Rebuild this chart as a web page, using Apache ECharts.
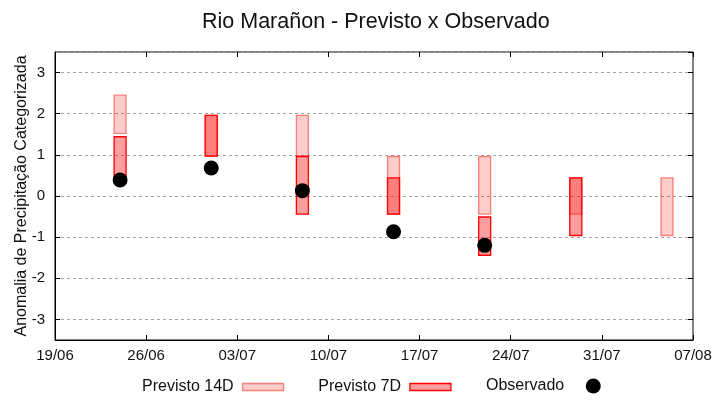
<!DOCTYPE html>
<html>
<head>
<meta charset="utf-8">
<script src="https://cdn.jsdelivr.net/npm/echarts@6/dist/echarts.min.js"></script>
<style>html,body{margin:0;padding:0;background:#fff;}#c{width:720px;height:400px;}</style>
</head>
<body>
<div id="c"></div>
<script>
// ---- data ----
const startDate = '19/06';
const tickLabels = ['19/06', '26/06', '03/07', '10/07', '17/07', '24/07', '31/07', '07/08'];
const dates = ['24/06', '01/07', '08/07', '15/07', '22/07', '29/07', '05/08'];
const prev14Low  = [1.52, 0.97, 0.97, -0.44, -0.44, -0.44, -0.96];
const prev14High = [2.45, 1.96, 1.96, 0.96, 0.96, 0.44, 0.44];
const prev7Low   = [0.44, 0.97, -0.44, -0.44, -1.44, -0.96, null];
const prev7High  = [1.44, 1.96, 0.96, 0.44, -0.51, 0.44, null];
const observed   = [0.39, 0.68, 0.13, -0.87, -1.20, null, null];

function dayOffset(s) {
  const [d, m] = s.split('/').map(Number);
  const [d0, m0] = startDate.split('/').map(Number);
  return Math.round((Date.UTC(2025, m - 1, d) - Date.UTC(2025, m0 - 1, d0)) / 86400000);
}
const xs = dates.map(dayOffset);

function rangeData(lo, hi) {
  const out = [];
  xs.forEach((x, i) => { if (lo[i] != null && hi[i] != null) out.push([x, lo[i], hi[i]]); });
  return out;
}
const obsData = [];
xs.forEach((x, i) => { if (observed[i] != null) obsData.push([x, observed[i]]); });

function makeRender(fill, stroke) {
  return function (params, api) {
    const x = api.value(0), lo = api.value(1), hi = api.value(2);
    const p1 = api.coord([x, hi]);
    const p2 = api.coord([x, lo]);
    const w = 12;
    return {
      type: 'rect',
      shape: { x: p1[0] - w / 2, y: p1[1], width: w, height: p2[1] - p1[1] },
      style: { fill: fill, stroke: stroke, lineWidth: 1.3 }
    };
  };
}

const fill14 = 'rgba(255,0,0,0.2)', stroke14 = 'rgba(240,60,50,0.6)';
const fill7 = 'rgba(255,0,0,0.38)', stroke7 = '#ff0000';

const font = 'Liberation Sans, Arial, sans-serif';
const chart = echarts.init(document.getElementById('c'));
const yCommon = {
  type: 'value', min: -3.5, max: 3.5, splitNumber: 7
};
chart.setOption({
  animation: false,
  backgroundColor: '#fff',
  title: {
    text: 'Rio Marañon - Previsto x Observado',
    left: 197, top: 6,
    textStyle: { fontFamily: font, fontSize: 21.5, fontWeight: 'normal', color: '#111' }
  },
  grid: { left: 55, right: 27, top: 52, bottom: 60, show: true, borderColor: '#000', borderWidth: 1, backgroundColor: 'transparent', containLabel: false, outerBoundsMode: 'none' },
  legend: [{
    left: 137, top: 374, orient: 'horizontal', align: 'right',
    itemWidth: 41, itemHeight: 7, itemGap: 34,
    textStyle: { fontFamily: font, fontSize: 16, color: '#111', padding: [0, 4, 0, 0] },
    data: [
      { name: 'Previsto 14D', icon: 'rect', itemStyle: { color: fill14, borderColor: stroke14, borderWidth: 1.3 } },
      { name: 'Previsto 7D', icon: 'rect', itemStyle: { color: fill7, borderColor: stroke7, borderWidth: 1.3 } }
    ]
  }, {
    left: 481, top: 373, align: 'right',
    itemWidth: 48, itemHeight: 15,
    textStyle: { fontFamily: font, fontSize: 16, color: '#111', padding: [0, 0, 0, 0] },
    data: [{ name: 'Observado', icon: 'circle', itemStyle: { color: '#000', opacity: 1 } }]
  }],
  xAxis: [{
    type: 'value', min: 0, max: 49, interval: 7,
    axisLine: { show: true, onZero: false, lineStyle: { color: '#000' } },
    axisTick: { show: true, inside: true, length: 5, lineStyle: { color: '#000' } },
    splitLine: { show: false },
    axisLabel: {
      fontFamily: font, fontSize: 15, color: '#111', margin: 8,
      formatter: v => tickLabels[Math.round(v / 7)] || ''
    }
  }, {
    type: 'value', min: 0, max: 49, interval: 7, position: 'top',
    axisLine: { show: false, onZero: false },
    axisTick: { show: true, inside: true, length: 5, lineStyle: { color: '#000' } },
    splitLine: { show: false }, axisLabel: { show: false }
  }],
  yAxis: [Object.assign({}, yCommon, {
    name: 'Anomalia de Precipitação Categorizada',
    nameLocation: 'middle', nameGap: 25, nameMoveOverlap: false,
    nameTextStyle: { fontFamily: font, fontSize: 16, color: '#111' },
    axisLine: { show: true, onZero: false, lineStyle: { color: '#000' } },
    axisTick: { show: true, inside: true, length: 5, lineStyle: { color: '#000' } },
    splitLine: { show: true, lineStyle: { color: '#a0a0a0', type: [3, 3], width: 1 } },
    axisLabel: {
      fontFamily: font, fontSize: 15, color: '#111', margin: 10,
      showMinLabel: false, showMaxLabel: false,
      formatter: v => Number.isInteger(v) ? String(v) : ''
    }
  }), Object.assign({}, yCommon, {
    position: 'right',
    axisLine: { show: false, onZero: false },
    axisTick: { show: true, inside: true, length: 5, lineStyle: { color: '#000' } },
    splitLine: { show: false }, axisLabel: { show: false }
  })],
  series: [{
    name: 'Previsto 14D', type: 'custom',
    renderItem: makeRender(fill14, stroke14),
    encode: { x: 0, y: [1, 2] },
    itemStyle: { color: fill14 },
    data: rangeData(prev14Low, prev14High), z: 2
  }, {
    name: 'Previsto 7D', type: 'custom',
    renderItem: makeRender(fill7, stroke7),
    encode: { x: 0, y: [1, 2] },
    itemStyle: { color: fill7 },
    data: rangeData(prev7Low, prev7High), z: 3
  }, {
    name: 'Observado', type: 'scatter',
    symbol: 'circle', symbolSize: 15,
    itemStyle: { color: '#000', opacity: 1 },
    data: obsData, z: 4
  }]
});
</script>
</body>
</html>
